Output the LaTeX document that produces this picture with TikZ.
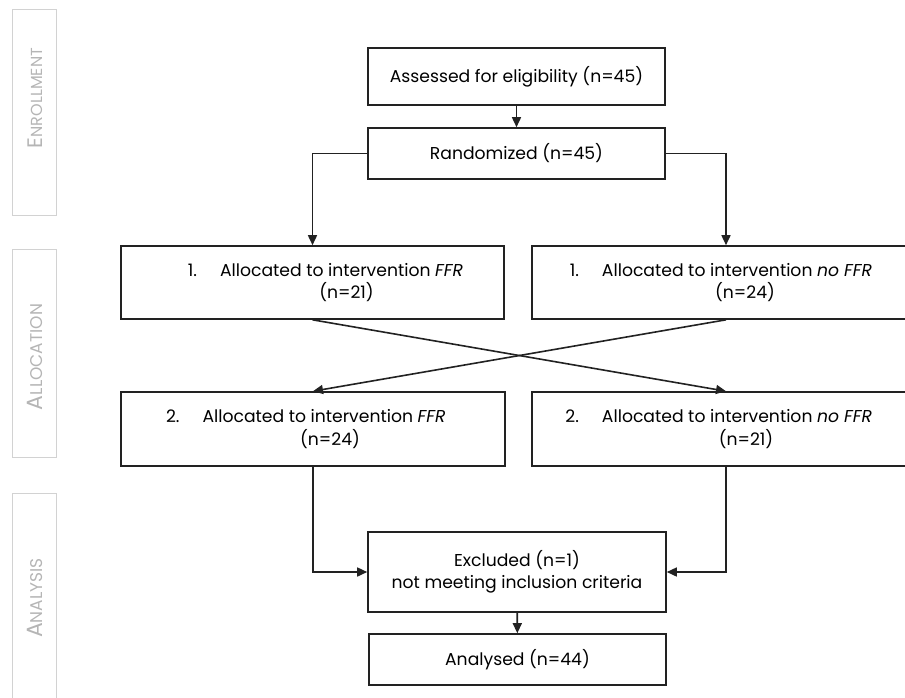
\documentclass[tikz,border=0pt]{standalone}
\usepackage{fontspec}
\setmainfont{Poppins}
\usetikzlibrary{arrows.meta}
\definecolor{sidegray}{HTML}{D2D2D2}
\definecolor{sidetext}{HTML}{B5B5B5}
\definecolor{ink}{HTML}{222222}
\newcommand{\itemshift}[1]{\hspace*{#1}}
\begin{document}
\begin{tikzpicture}[x=1pt,y=-1pt,
    box/.style={draw=ink, line width=1.6pt, inner sep=0pt, align=center,
        font=\fontsize{17.2}{22.5}\selectfont},
    side/.style={draw=sidegray, line width=1pt, minimum width=44pt, inner sep=0pt},
    sidelabel/.style={rotate=90, text=sidetext},
    flow/.style={draw=ink, line width=1.6pt, -{Triangle[length=10pt,width=9pt]}}]
        \useasboundingbox (0,0) rectangle (905,697);

        % phase bars on the left
        \node[side, minimum height=206pt] (enrolbar) at (34,112) {};
        \node[side, minimum height=208pt] (allocbar) at (34,353) {};
        \node[side, minimum height=270pt] (analbar) at (34,628) {};
        \node[sidelabel] (enrol) at (35,98) {{\fontsize{21}{21}\selectfont E}{\fontsize{16}{16}\selectfont NROLLMENT}};
        \node[sidelabel] (alloc) at (35,357) {{\fontsize{22}{22}\selectfont A}{\fontsize{17}{17}\selectfont LLOCATION}};
        \node[sidelabel] (anal) at (35,598) {{\fontsize{22}{22}\selectfont A}{\fontsize{17}{17}\selectfont NALYSIS}};

        % boxes
        \node[box, minimum width=297pt, minimum height=57pt] (assess) at (516.5,76.5) {Assessed for eligibility (n=45)};
        \node[box, minimum width=297pt, minimum height=51pt] (random) at (516.5,153.5) {Randomized (n=45)};
        \node[box, minimum width=383pt, minimum height=73pt] (allocA) at (312.5,282.5)
            {\itemshift{58pt}\llap{1.\hspace{23pt}}Allocated to intervention \textit{FFR}\\\itemshift{68pt}(n=21)};
        \node[box, minimum width=388pt, minimum height=73pt] (allocB) at (726,282.5)
            {\itemshift{22pt}\llap{1.\hspace{23pt}}Allocated to intervention \textit{no FFR}\\\itemshift{38pt}(n=24)};
        \node[box, minimum width=384pt, minimum height=74pt] (allocC) at (313,429)
            {\itemshift{22pt}\llap{2.\hspace{23pt}}Allocated to intervention \textit{FFR}\\\itemshift{34pt}(n=24)};
        \node[box, minimum width=388pt, minimum height=74pt] (allocD) at (726,429)
            {\itemshift{22pt}\llap{2.\hspace{23pt}}Allocated to intervention \textit{no FFR}\\\itemshift{40pt}(n=21)};
        \node[box, minimum width=298pt, minimum height=80pt] (excl) at (517,572)
            {Excluded (n=1)\\not meeting inclusion criteria};
        \node[box, minimum width=297pt, minimum height=51pt] (analysed) at (517.5,659.5) {Analysed (n=44)};

        % connectors
        \draw[flow] (assess) -- (random);
        \draw[flow] (random.west) -| (allocA.north);
        \draw[flow] (random.east) -| (allocB.north);
        \draw[flow] (allocA.south) -- (allocD.north);
        \draw[flow] (allocB.south) -- (allocC.north);
        \draw[flow] (allocC.south) |- (excl.west);
        \draw[flow] (allocD.south) |- (excl.east);
        \draw[flow] (excl) -- (analysed);
\end{tikzpicture}
\end{document}
